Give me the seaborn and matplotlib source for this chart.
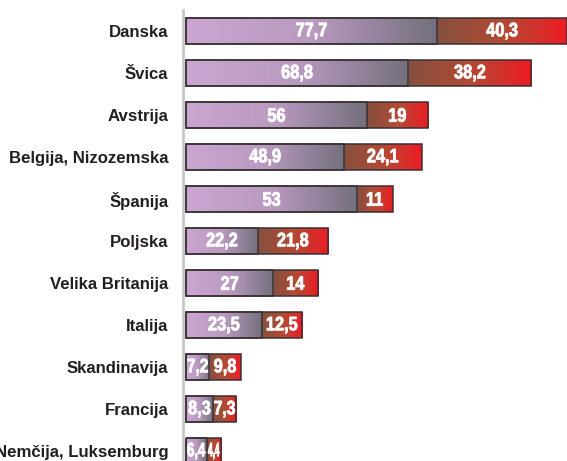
import numpy as np
import pandas as pd
import seaborn as sns
import matplotlib.pyplot as plt
from matplotlib.colors import LinearSegmentedColormap
from matplotlib.textpath import TextPath
from matplotlib.patches import PathPatch
from matplotlib.font_manager import FontProperties
import matplotlib.transforms as mtransforms
import matplotlib.patheffects as pe

countries = ['Danska', 'Švica', 'Avstrija', 'Belgija, Nizozemska', 'Španija', 'Poljska',
             'Velika Britanija', 'Italija', 'Skandinavija', 'Francija', 'Nemčija, Luksemburg']
first = [77.7, 68.8, 56, 48.9, 53, 22.2, 27, 23.5, 7.2, 8.3, 6.4]
second = [40.3, 38.2, 19, 24.1, 11, 21.8, 14, 12.5, 9.8, 7.3, 4.4]

df = pd.DataFrame({'country': countries, 'first': first, 'second': second})
df['total'] = df['first'] + df['second']

sns.set_style('white')
plt.rcParams['font.family'] = ['Liberation Sans', 'DejaVu Sans']

fig = plt.figure(figsize=(5.67, 4.61), dpi=100)
# axes run past the bottom edge, like the cropped original
ax = fig.add_axes([183 / 567, -11 / 461, 384 / 567, 462 / 461])

sns.barplot(data=df, y='country', x='total', orient='h', color='#e81c24',
            width=0.64, edgecolor='#3a3234', linewidth=1.1, ax=ax)
sns.barplot(data=df, y='country', x='first', orient='h', color='#c9a3cf',
            width=0.64, edgecolor='#3a3234', linewidth=1.1, ax=ax)

cm1 = LinearSegmentedColormap.from_list('lil', ['#cba6d2', '#b99ac0', '#74707d'])
cm2 = LinearSegmentedColormap.from_list('red', ['#85503f', '#b24a34', '#ee1b24'])
grad = np.linspace(0, 1, 256).reshape(1, -1)

n = len(countries)
for i, p in enumerate(ax.patches):
    cm = cm2 if i < n else cm1
    x0, y0 = p.get_x(), p.get_y()
    w, h = p.get_width(), p.get_height()
    if i < n:
        # red part starts where the first segment ends
        x0 = first[i]
        w = second[i]
    im = ax.imshow(grad, cmap=cm, aspect='auto', extent=(x0, x0 + w, y0 + h, y0),
                   zorder=p.get_zorder() + 0.1 + (0 if i < n else 1), interpolation='bilinear')
    im.set_clip_path(p)
    p.set_facecolor('none')
    p.set_zorder(p.get_zorder() + 2)

ax.set_xlim(-0.93, 118)
ax.set_ylim(n - 0.5, -0.5)

# condensed white value labels, squeezed to fit the segment
prop = FontProperties(family='Liberation Sans', weight='bold')
px_per_unit = 384 / (118 + 0.93)
size_pt = 14
for i in range(n):
    for xc, v in [(first[i] / 2, first[i]), (first[i] + second[i] / 2, second[i])]:
        txt = f'{v:g}'.replace('.', ',')
        tp = TextPath((0, 0), txt, size=size_pt, prop=prop)
        bb = tp.get_extents()
        scale = fig.dpi / 72
        tw = bb.width * scale
        seg_px = v * px_per_unit
        sx = min(0.84, (seg_px - 3) / tw)
        trans = (mtransforms.Affine2D()
                 .translate(-(bb.x0 + bb.width / 2), -(bb.y0 + bb.height / 2))
                 .scale(sx * scale, scale)
                 + mtransforms.ScaledTranslation(xc, i, ax.transData))
        ax.add_patch(PathPatch(tp, transform=trans, facecolor='white', edgecolor='white',
                               linewidth=0.6, zorder=10, clip_on=False))

ax.set_xlabel('')
ax.set_ylabel('')
ax.set_xticks([])
for s in ['top', 'right', 'bottom']:
    ax.spines[s].set_visible(False)
ax.spines['left'].set_color('#c8c8c8')
ax.spines['left'].set_linewidth(2)
ax.set_yticks(range(n))
ax.set_yticklabels(countries, fontsize=12.1, fontweight='bold', color='#231f20')
ax.tick_params(axis='y', which='major', length=0, pad=10.5)
ax.set_yticks(np.arange(-0.5, n, 1), minor=True)
ax.tick_params(axis='y', which='minor', length=5, width=2, color='#c8c8c8', direction='out')

fig.savefig('out.png', dpi=100)
